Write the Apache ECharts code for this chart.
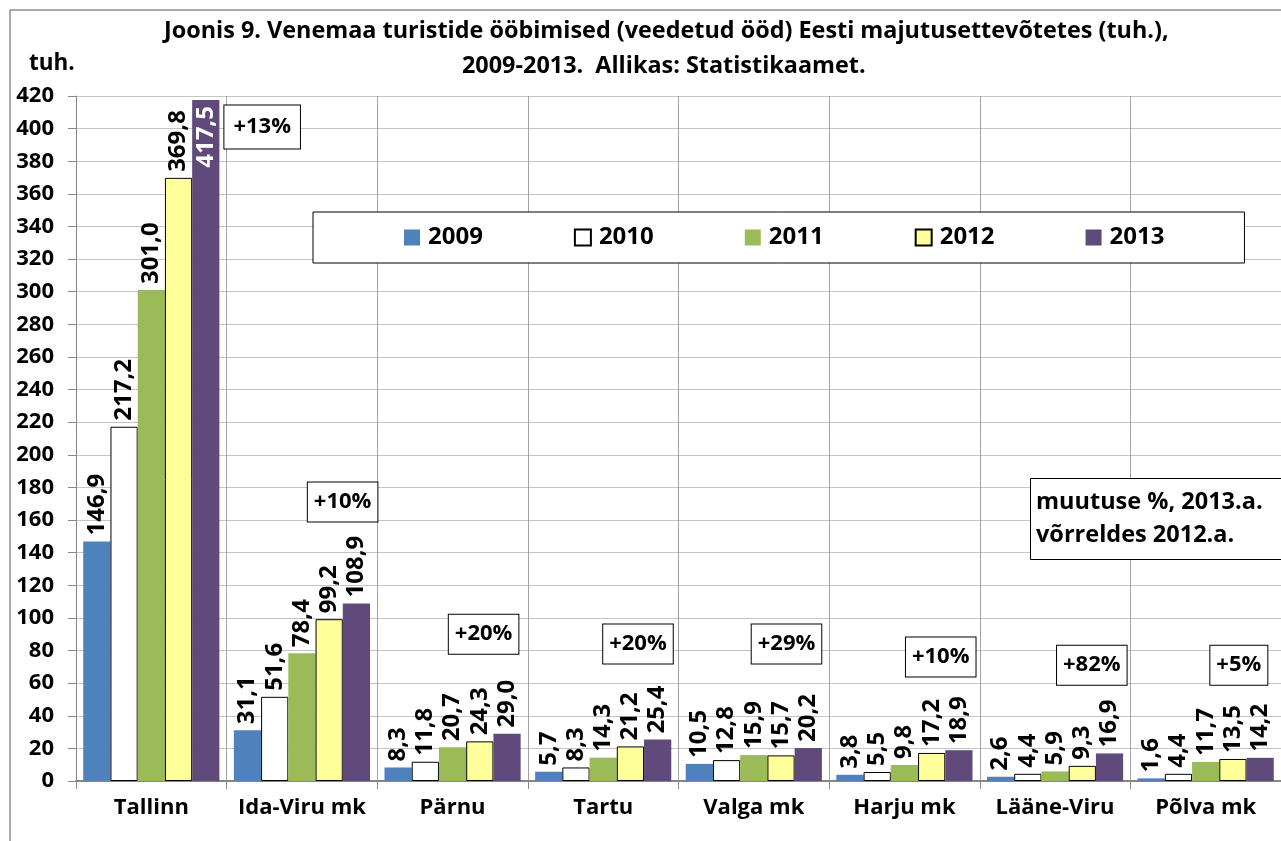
<!DOCTYPE html>
<html>
<head>
<meta charset="utf-8">
<script src="https://cdn.jsdelivr.net/npm/echarts@6/dist/echarts.min.js"></script>
<style>
  html, body { margin:0; padding:0; background:#fff; }
  #chart { width:1281px; height:841px; }
</style>
</head>
<body>
<div id="chart"></div>
<script>
/* Russian tourists' nights in Estonian accommodation, 2009-2013 */
const categories = ['Tallinn','Ida-Viru mk','Pärnu','Tartu','Valga mk','Harju mk','Lääne-Viru','Põlva mk'];
const years = ['2009','2010','2011','2012','2013'];
const v2009 = [146.9, 31.1, 8.3, 5.7, 10.5, 3.8, 2.6, 1.6];
const v2010 = [217.2, 51.6, 11.8, 8.3, 12.8, 5.5, 4.4, 4.4];
const v2011 = [301.0, 78.4, 20.7, 14.3, 15.9, 9.8, 5.9, 11.7];
const v2012 = [369.8, 99.2, 24.3, 21.2, 15.7, 17.2, 9.3, 13.5];
const v2013 = [417.5, 108.9, 29.0, 25.4, 20.2, 18.9, 16.9, 14.2];
const changeLabels = ['+13%','+10%','+20%','+20%','+29%','+10%','+82%','+5%'];
const yTicks = { min:0, max:420, step:20 };

// where each change box sits (category units, axis units)
const boxX = [1.236, 1.770, 2.706, 3.731, 4.717, 5.741, 6.744, 7.72];
const boxY = [401, 171, 90, 84, 84, 76, 71, 71];

const FONT = "'Open Sans', sans-serif";
const COLORS = ['#4F81BD','#FFFFFF','#9BBB59','#FFFF99','#604A7B'];
const BORDERS = [null,'#000000',null,'#000000',null];
const values = [v2009, v2010, v2011, v2012, v2013];

const fmt = v => v.toFixed(1).replace('.', ',');
const bold = (size, extra) => Object.assign({ fontFamily:FONT, fontWeight:'bold', fontSize:size, color:'#000' }, extra || {});

const chart = echarts.init(document.getElementById('chart'), null, { renderer:'canvas' });

const barSeries = years.map((y, i) => ({
  name: y, type:'bar', barGap:'0%', barCategoryGap:'9.6%',
  itemStyle: BORDERS[i]
    ? { color:COLORS[i], borderColor:BORDERS[i], borderWidth:1 }
    : { color:COLORS[i] },
  label: bold(24, { show:true, position:'top', rotate:90, align:'left', verticalAlign:'middle',
    distance:6, formatter: p => fmt(p.value) }),
  data: values[i].map(v => v > 400
    ? { value:v, label:{ position:'insideTop', align:'right', verticalAlign:'middle', color:'#fff', distance:6 } }
    : v)
}));

chart.setOption({
  backgroundColor:'#ffffff',
  animation:false,
  title:[
    { text:'Joonis 9. Venemaa turistide ööbimised (veedetud ööd) Eesti majutusettevõtetes (tuh.),',
      left:164, top:20, padding:0, textStyle:bold(23.4) },
    { text:'2009-2013.  Allikas: Statistikaamet.',
      left:462, top:55, padding:0, textStyle:bold(23.4) },
    { text:'tuh.', left:24, top:47, textStyle:bold(22.5) },
    { text:'muutuse %, 2013.a.\nvõrreldes 2012.a.', left:1030, top:478,
      padding:[8,60,8,6], backgroundColor:'#fff', borderColor:'#000', borderWidth:1,
      textStyle:bold(23.5, { lineHeight:33 }) }
  ],
  legend:{
    data:years, left:313, top:212, orient:'horizontal',
    itemWidth:16, itemHeight:16, itemGap:91, icon:'rect',
    padding:[13.5,80,13.5,91],
    backgroundColor:'#fff', borderColor:'#000', borderWidth:1,
    textStyle:bold(24, { lineHeight:24, padding:[0,0,0,3] })
  },
  graphic:[{
    type:'rect', silent:true, z:-10,
    shape:{ x:10, y:10, width:1400, height:900 },
    style:{ fill:'none', stroke:'#595959', lineWidth:1 }
  }],
  grid:{ left:76, right:-9, top:96, bottom:60, containLabel:false },
  xAxis:[
    { type:'category', data:categories,
      axisLine:{ lineStyle:{ color:'#868686', width:2 } },
      axisTick:{ show:true, length:8, lineStyle:{ color:'#868686' } },
      splitLine:{ show:true, lineStyle:{ color:'#a0a0a0', width:1 } },
      axisLabel:bold(22, { interval:0, margin:16 }) },
    { type:'value', min:0, max:categories.length, show:false }
  ],
  yAxis:{
    type:'value', min:yTicks.min, max:yTicks.max, interval:yTicks.step,
    axisLine:{ show:true, lineStyle:{ color:'#868686', width:1 } },
    axisTick:{ show:true, length:8, lineStyle:{ color:'#868686' } },
    splitLine:{ lineStyle:{ color:'#c4c4c4', width:1 } },
    axisLabel:bold(22, { margin:22 })
  },
  series: barSeries.concat([{
    name:'change', type:'scatter', xAxisIndex:1, yAxisIndex:0,
    symbolSize:0, silent:true, z:5,
    itemStyle:{ opacity:1 },
    label:bold(22, { show:true, position:'inside',
      backgroundColor:'#fff', borderColor:'#000', borderWidth:1,
      padding:[9,6,8,6], formatter: p => p.value[2] }),
    data: changeLabels.map((t, i) => (i === 0
      ? { value:[boxX[i], boxY[i], t], label:{ padding:[11,9,10,9] } }
      : [boxX[i], boxY[i], t]))
  }])
});
</script>
</body>
</html>
